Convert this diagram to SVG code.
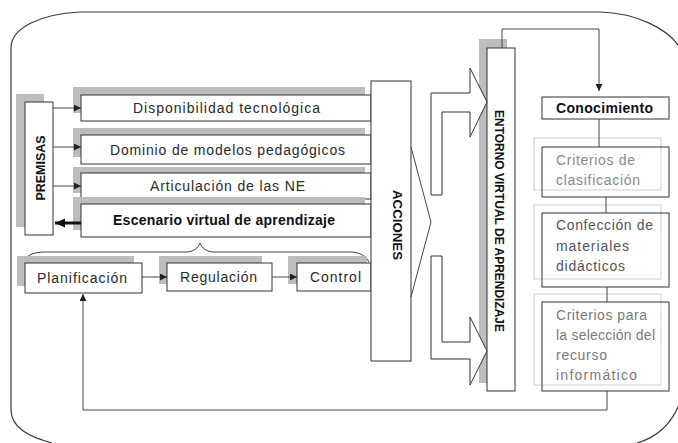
<svg xmlns="http://www.w3.org/2000/svg" width="678" height="443" viewBox="0 0 678 443">
<style>
.frame{fill:none;stroke:#3a3a3a;stroke-width:1.2}
.sh{fill:#bdbdbd;stroke:none}
.box{fill:#fff;stroke:#333;stroke-width:1}
.lbox{fill:none;stroke:#cfcfcf;stroke-width:1}
.dbox{fill:none;stroke:#333;stroke-width:1}
.t{font-family:"Liberation Sans",Arial,sans-serif;font-size:14px;fill:#2a2a2a}
.b{font-weight:bold;fill:#111}
.s{font-size:13px}
.g1{fill:#8a8a8a}
.g2{fill:#555}
.g3{fill:#7a7a7a}
.ln{fill:none;stroke:#444;stroke-width:1}
.blk{fill:#fff;stroke:#333;stroke-width:1}
</style>
<defs>
<marker id="ah" markerUnits="userSpaceOnUse" markerWidth="8" markerHeight="8" refX="7" refY="3.5" orient="auto">
<path d="M0,0 L7,3.5 L0,7 Z" fill="#222"/>
</marker>
<marker id="ahb" markerUnits="userSpaceOnUse" markerWidth="12" markerHeight="12" refX="10" refY="4.5" orient="auto">
<path d="M0,0 L10,4.5 L0,9 Z" fill="#111"/>
</marker>
</defs>
<rect width="678" height="443" fill="#fff"/>
<g id="frame">
<path class="frame" d="M52,443 C30,437 11,428 11,410 L11,48 C11,28 40,14 80,12 L600,12 C635,13 668,28 680,48"/>
<path class="frame" d="M680,402 C672,425 655,438 637,443"/>
</g>
<g id="premisas">
<rect class="sh" x="16" y="94" width="28" height="133"/>
<rect class="box" x="25" y="102" width="28" height="133"/>
<text class="t b s" transform="translate(40,168) rotate(-90)" text-anchor="middle" dy="0.36em" textLength="65" lengthAdjust="spacingAndGlyphs">PREMISAS</text>
</g>
<g id="disponibilidad">
<rect class="sh" x="73" y="87" width="292" height="26"/>
<rect class="box" x="81" y="95" width="290" height="26"/>
<text class="t" x="133" y="113" textLength="187">Disponibilidad tecnológica</text>
</g>
<g id="dominio">
<rect class="sh" x="73" y="128" width="292" height="29"/>
<rect class="box" x="81" y="135" width="290" height="29"/>
<text class="t" x="110" y="155" textLength="235">Dominio de modelos pedagógicos</text>
</g>
<g id="articulacion">
<rect class="sh" x="73" y="167" width="292" height="26"/>
<rect class="box" x="81" y="173" width="290" height="26"/>
<text class="t" x="150" y="191" textLength="155">Articulación de las NE</text>
</g>
<g id="escenario">
<rect class="sh" x="73" y="197" width="292" height="33"/>
<rect class="box" x="81" y="204" width="290" height="33"/>
<text class="t b" x="113" y="225" textLength="222">Escenario virtual de aprendizaje</text>
</g>
<g id="brace">
<path class="ln" stroke="#555" d="M25,263 C25,256 32,252 45,252 L185,252 C194,252 198,248 200,243 C202,248 206,252 215,252 L350,252 C360,252 366,256 369,262"/>
</g>
<g id="planificacion">
<rect class="sh" x="17" y="256" width="117" height="30"/>
<rect class="box" x="25" y="263" width="117" height="30"/>
<text class="t" x="37" y="283" textLength="90">Planificación</text>
</g>
<g id="regulacion">
<rect class="sh" x="159" y="256" width="103" height="28"/>
<rect class="box" x="167" y="263" width="105" height="28"/>
<text class="t" x="180" y="282" textLength="77">Regulación</text>
</g>
<g id="control">
<rect class="sh" x="288" y="256" width="79" height="28"/>
<rect class="box" x="297" y="263" width="74" height="28"/>
<text class="t" x="310" y="282" textLength="51">Control</text>
</g>
<g id="acciones">
<rect class="box" x="371" y="81" width="40" height="280"/>
<text class="t b s" transform="translate(398,225) rotate(90)" text-anchor="middle" dy="0.36em" textLength="70" lengthAdjust="spacingAndGlyphs">ACCIONES</text>
</g>
<g id="entorno">
<rect class="sh" x="479" y="39" width="28" height="344"/>
<rect class="box" x="487" y="48" width="28" height="343"/>
<text class="t b s" transform="translate(500,221) rotate(90)" text-anchor="middle" dy="0.36em" textLength="222" lengthAdjust="spacingAndGlyphs">ENTORNO VIRTUAL DE APRENDIZAJE</text>
</g>
<g id="conocimiento">
<rect class="box" x="542" y="97" width="127" height="22"/>
<text class="t b" x="556" y="113" textLength="97">Conocimiento</text>
</g>
<g id="criterios-clasificacion">
<rect class="lbox" x="534" y="138" width="127" height="52"/>
<rect class="dbox" x="542" y="147" width="127" height="50"/>
<text class="t g1" x="556" y="165" textLength="79">Criterios de</text>
<text class="t g1" x="556" y="185" textLength="84">clasificación</text>
</g>
<g id="confeccion">
<rect class="lbox" x="534" y="205" width="127" height="74"/>
<rect class="dbox" x="542" y="213" width="127" height="74"/>
<text class="t g2" x="556" y="230" textLength="97">Confección de</text>
<text class="t g2" x="556" y="251" textLength="73">materiales</text>
<text class="t g2" x="556" y="271" textLength="69">didácticos</text>
</g>
<g id="criterios-seleccion">
<rect class="lbox" x="534" y="294" width="127" height="91"/>
<rect class="dbox" x="542" y="302" width="127" height="89"/>
<text class="t g3" x="556" y="320" textLength="91">Criterios para</text>
<text class="t g3" x="556" y="340" textLength="99">la selección del</text>
<text class="t g3" x="556" y="360" textLength="51">recurso</text>
<text class="t g3" x="556" y="380" textLength="81">informático</text>
</g>
<g id="connectors">
<path class="ln" stroke="#666" d="M53,108 L81,108" marker-end="url(#ah)"/>
<path class="ln" stroke="#666" d="M53,147 L81,147" marker-end="url(#ah)"/>
<path class="ln" stroke="#666" d="M53,186 L81,186" marker-end="url(#ah)"/>
<path fill="none" stroke="#111" stroke-width="3" d="M81,223 L55,223" marker-end="url(#ahb)"/>
<path class="ln" d="M142,277 L167,277" marker-end="url(#ah)"/>
<path class="ln" d="M272,277 L297,277" marker-end="url(#ah)"/>
<path class="ln" d="M411,147 L431,222 L411,297"/>
<path class="blk" d="M431,195 L431,93 L470,93 L470,68 L487,102 L470,137 L470,112 L442,112 L442,195 Z"/>
<path class="blk" d="M431,256 L442,256 L442,342 L470,342 L470,317 L487,351 L470,385 L470,359 L431,359 Z"/>
<path class="ln" d="M502,48 L502,29 L599,29 L599,91" marker-end="url(#ah)"/>
<path class="ln" d="M599,119 L599,147"/>
<path class="ln" d="M606,197 L606,213"/>
<path class="ln" d="M607,287 L607,302"/>
<path class="ln" d="M607,391 L607,410 L83,410 L83,294" marker-end="url(#ah)"/>
</g>
</svg>
